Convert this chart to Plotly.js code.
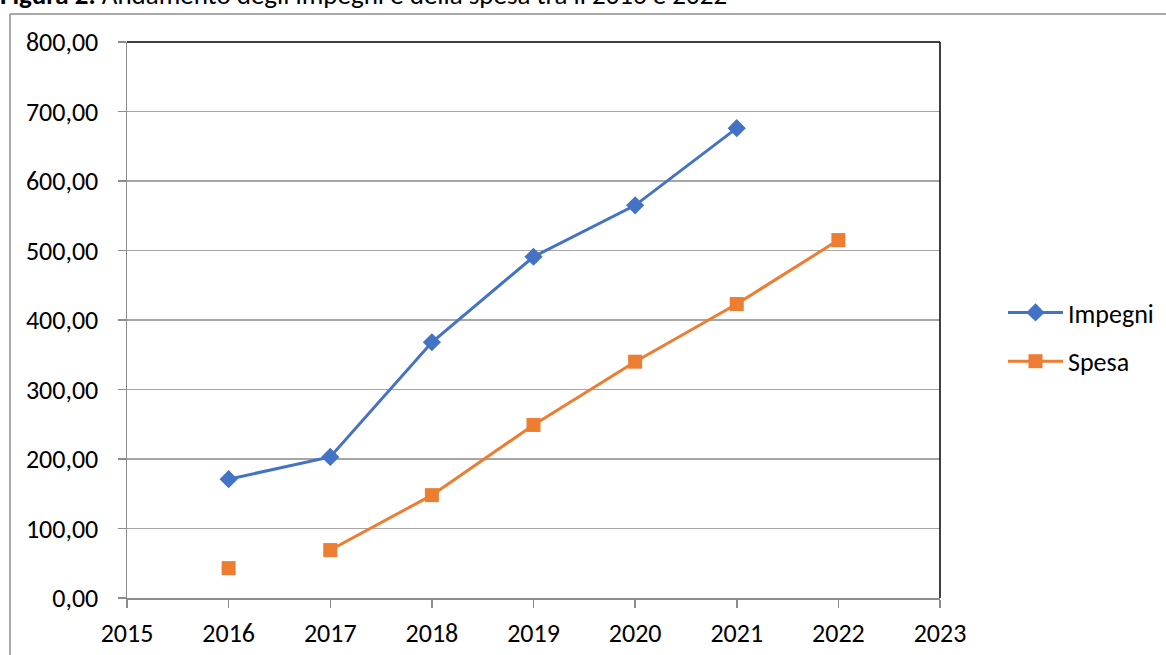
<!DOCTYPE html>
<html>
<head>
<meta charset="utf-8">
<script src="https://cdn.plot.ly/plotly-3.0.1.min.js"></script>
<style>html,body{margin:0;padding:0;background:#fff;}#chart{width:1166px;height:655px;}</style>
</head>
<body>
<div id="chart"></div>
<script>
const years = [2016, 2017, 2018, 2019, 2020, 2021, 2022];
const impegni = [171, 203, 368, 491, 565, 676, null];
const spesa = [43, 69, 148, 249, 340, 423, 515];
const seriesNames = ["Impegni", "Spesa"];
const yTickVals = [0, 100, 200, 300, 400, 500, 600, 700, 800];
const titleText = "<b>Figura 2.</b> Andamento degli impegni e della spesa tra il 2016 e 2022";

const FONT = "Carlito, Calibri, Lato, 'Open Sans', sans-serif";
const BLUE = "#4472C4", ORANGE = "#ED7D31";

const traces = [
  {
    x: years.slice(0, 6), y: impegni.slice(0, 6), name: seriesNames[0],
    type: "scatter", mode: "lines+markers", legendgroup: "a",
    line: {color: BLUE, width: 3},
    marker: {symbol: "diamond", size: 14, color: BLUE}
  },
  {
    x: years.slice(1), y: spesa.slice(1), name: seriesNames[1],
    type: "scatter", mode: "lines+markers", legendgroup: "b",
    line: {color: ORANGE, width: 3},
    marker: {symbol: "square", size: 14, color: ORANGE}
  },
  {
    x: years.slice(0, 1), y: spesa.slice(0, 1), name: seriesNames[1],
    type: "scatter", mode: "markers", legendgroup: "b", showlegend: false,
    marker: {symbol: "square", size: 14, color: ORANGE}
  }
];

const W = 1166, H = 655, L = 127, R = 226, T = 42, B = 57;
const pw = W - L - R, ph = H - T - B;
const px = v => (v - L) / pw;
const py = v => (H - B - v) / ph;

const layout = {
  width: W, height: H,
  margin: {l: L, r: R, t: T, b: B, autoexpand: false},
  paper_bgcolor: "#fff", plot_bgcolor: "#fff",
  font: {family: FONT, color: "#000", size: 26},
  xaxis: {
    range: [2015, 2023], dtick: 1, tick0: 2015,
    showgrid: false, zeroline: false,
    showline: true, linecolor: "#8c8c8c", linewidth: 1.5,
    ticks: "outside", ticklen: 8, tickcolor: "#8c8c8c", tickwidth: 1.5,
    tickfont: {family: FONT, size: 26, color: "#000"},
    ticklabelstandoff: 3, automargin: false
  },
  yaxis: {
    range: [0, 800], tickvals: yTickVals, tickformat: ".2f",
    showgrid: true, gridcolor: "#a6a6a6", gridwidth: 1.5,
    zeroline: false,
    showline: true, linecolor: "#8c8c8c", linewidth: 1.5,
    ticks: "outside", ticklen: 8, tickcolor: "#8c8c8c", tickwidth: 1.5,
    tickfont: {family: FONT, size: 26, color: "#000"},
    ticklabelstandoff: 14, automargin: false
  },
  separators: ",.",
  showlegend: true,
  legend: {
    x: px(1003), xanchor: "left", y: py(337), yanchor: "middle",
    font: {family: FONT, size: 26, color: "#000"},
    itemwidth: 55, tracegroupgap: 12, bgcolor: "rgba(0,0,0,0)"
  },
  annotations: [
    {text: titleText, xref: "paper", yref: "paper", x: px(-2), xanchor: "left",
     y: py(-6), yanchor: "middle", showarrow: false,
     font: {family: FONT, size: 27, color: "#000"}}
  ],
  shapes: [
    {type: "line", xref: "paper", yref: "paper", x0: 0, x1: 1, y0: 1, y1: 1,
     line: {color: "#000", width: 1.5}},
    {type: "line", xref: "paper", yref: "paper", x0: 1, x1: 1, y0: 0, y1: 1,
     line: {color: "#000", width: 1.5}},
    {type: "line", xref: "paper", yref: "paper", x0: px(10), x1: px(1170), y0: py(14), y1: py(14),
     line: {color: "#8c8c8c", width: 1.5}},
    {type: "line", xref: "paper", yref: "paper", x0: px(10), x1: px(10), y0: py(14), y1: py(660),
     line: {color: "#8c8c8c", width: 1.5}}
  ]
};

Plotly.newPlot("chart", traces, layout, {displayModeBar: false, staticPlot: true});
</script>
</body>
</html>
